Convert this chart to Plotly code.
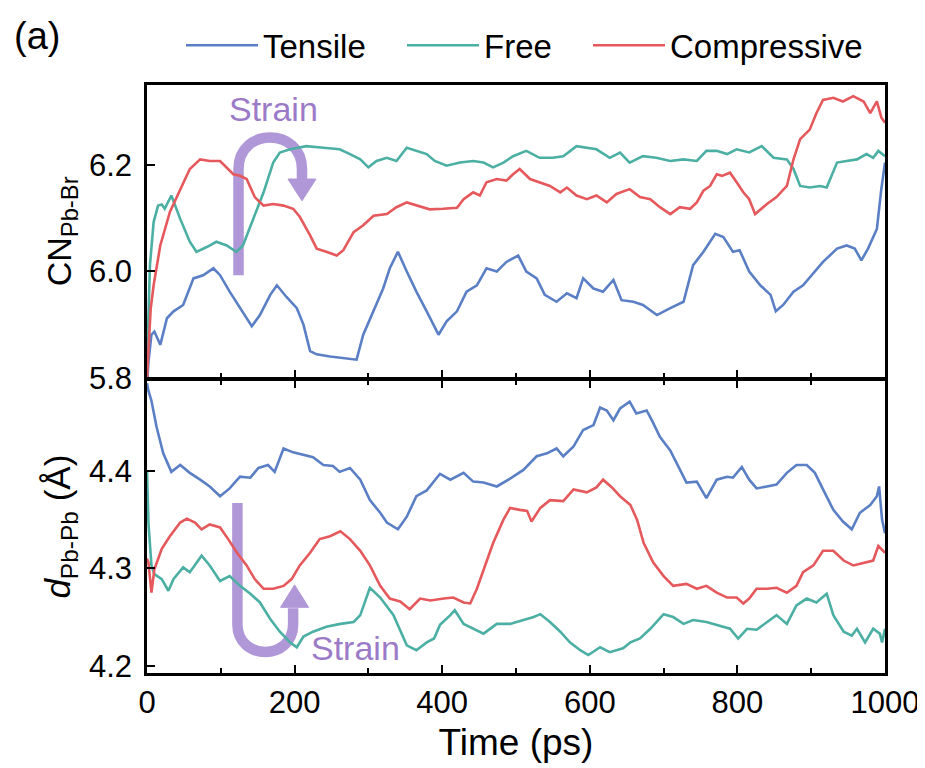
import plotly.graph_objects as go
from plotly.subplots import make_subplots

# ---------------- data ----------------
# Top panel: coordination number CN(Pb-Br)
t_cn_tensile = [0, 2, 6, 10, 18, 27, 36, 49, 63, 76, 90, 99, 112, 126, 142, 153, 167, 176, 189, 203,
                212, 221, 230, 248, 266, 284, 293, 307, 320, 329, 340, 352, 365, 379, 395, 406, 420,
                433, 447, 460, 474, 487, 503, 514, 528, 539, 555, 569, 582, 591, 605, 618, 632, 643,
                659, 672, 691, 709, 727, 740, 754, 770, 781, 794, 803, 816, 831, 845, 852, 862, 876,
                889, 903, 916, 935, 948, 959, 968, 977, 989, 995, 1000]
cn_tensile = [5.79, 5.83, 5.881, 5.887, 5.862, 5.912, 5.925, 5.937, 5.987, 5.993, 6.006, 5.993, 5.962,
              5.931, 5.897, 5.918, 5.956, 5.974, 5.952, 5.931, 5.90, 5.85, 5.844, 5.84, 5.837, 5.834,
              5.881, 5.925, 5.968, 6.006, 6.037, 6.0, 5.962, 5.925, 5.881, 5.906, 5.925, 5.962, 5.974,
              6.006, 6.0, 6.018, 6.03, 6.0, 5.987, 5.956, 5.943, 5.959, 5.95, 5.987, 5.968, 5.962,
              5.984, 5.946, 5.943, 5.937, 5.918, 5.931, 5.943, 6.012, 6.037, 6.071, 6.065, 6.037,
              6.04, 6.0, 5.974, 5.956, 5.925, 5.937, 5.962, 5.974, 5.996, 6.018, 6.043, 6.049, 6.043,
              6.021, 6.043, 6.08, 6.155, 6.205]

t_cn_free = [0, 4, 9, 15, 20, 24, 33, 45, 58, 67, 81, 94, 108, 121, 130, 144, 158, 171, 180, 194, 216,
             239, 261, 275, 289, 300, 311, 325, 338, 352, 365, 379, 390, 406, 424, 442, 456, 469, 483,
             496, 514, 532, 550, 564, 582, 596, 609, 627, 641, 654, 672, 690, 709, 727, 745, 758, 772,
             786, 799, 816, 833, 849, 867, 876, 885, 898, 912, 921, 935, 948, 962, 975, 984, 991, 1000]
cn_free = [5.82, 6.012, 6.093, 6.124, 6.126, 6.118, 6.143, 6.099, 6.056, 6.037, 6.046, 6.056, 6.049,
           6.037, 6.049, 6.099, 6.149, 6.205, 6.224, 6.23, 6.236, 6.233, 6.23, 6.221, 6.211, 6.196,
           6.208, 6.214, 6.208, 6.233, 6.227, 6.221, 6.208, 6.199, 6.205, 6.208, 6.205, 6.196, 6.205,
           6.217, 6.227, 6.214, 6.214, 6.217, 6.236, 6.233, 6.23, 6.214, 6.224, 6.205, 6.217, 6.214,
           6.208, 6.211, 6.208, 6.227, 6.227, 6.221, 6.23, 6.224, 6.236, 6.214, 6.211, 6.193, 6.161,
           6.158, 6.161, 6.158, 6.205, 6.208, 6.211, 6.221, 6.214, 6.227, 6.217]

t_cn_comp = [0, 2, 5, 9, 18, 31, 45, 58, 72, 85, 99, 106, 117, 126, 135, 146, 158, 171, 185, 198, 207,
             221, 230, 243, 257, 266, 280, 293, 307, 325, 338, 352, 365, 383, 401, 420, 429, 442, 451,
             460, 474, 487, 496, 505, 519, 532, 546, 560, 569, 582, 596, 609, 623, 636, 654, 668, 682,
             695, 709, 722, 736, 745, 754, 763, 772, 779, 790, 799, 808, 816, 824, 840, 853, 867, 876,
             885, 898, 907, 916, 930, 943, 957, 971, 980, 989, 995, 1000]
cn_comp = [5.80, 5.86, 5.93, 5.974, 6.049, 6.112, 6.155, 6.193, 6.211, 6.208, 6.208, 6.199, 6.183,
           6.18, 6.174, 6.14, 6.124, 6.127, 6.124, 6.118, 6.103, 6.068, 6.043, 6.037, 6.03, 6.04,
           6.074, 6.087, 6.105, 6.108, 6.121, 6.13, 6.124, 6.117, 6.118, 6.12, 6.136, 6.149, 6.143,
           6.168, 6.174, 6.171, 6.183, 6.193, 6.174, 6.168, 6.161, 6.149, 6.158, 6.143, 6.136, 6.143,
           6.13, 6.146, 6.155, 6.14, 6.136, 6.121, 6.108, 6.121, 6.118, 6.13, 6.152, 6.161, 6.183,
           6.18, 6.186, 6.168, 6.149, 6.136, 6.108, 6.127, 6.14, 6.161, 6.211, 6.249, 6.267, 6.298,
           6.323, 6.327, 6.32, 6.33, 6.32, 6.298, 6.32, 6.29, 6.28]

# Bottom panel: Pb-Pb distance d(Pb-Pb) in angstrom
t_d_tensile = [0, 2, 6, 13, 22, 33, 45, 58, 72, 85, 99, 112, 126, 140, 151, 164, 173, 185, 198, 212,
               225, 239, 252, 261, 275, 289, 302, 316, 325, 340, 352, 365, 379, 397, 411, 429, 442,
               456, 474, 492, 510, 528, 542, 555, 564, 578, 591, 605, 614, 623, 632, 641, 654, 663,
               677, 684, 695, 709, 722, 731, 745, 758, 772, 786, 794, 806, 816, 826, 840, 853, 867,
               880, 894, 905, 916, 930, 943, 955, 966, 980, 989, 992, 996, 1000]
d_tensile = [4.49, 4.482, 4.472, 4.445, 4.418, 4.399, 4.406, 4.398, 4.391, 4.384, 4.374, 4.382, 4.394,
             4.393, 4.403, 4.406, 4.399, 4.423, 4.419, 4.416, 4.414, 4.406, 4.405, 4.399, 4.403,
             4.391, 4.37, 4.357, 4.347, 4.34, 4.353, 4.374, 4.38, 4.397, 4.391, 4.398, 4.389, 4.388,
             4.384, 4.392, 4.401, 4.415, 4.418, 4.423, 4.415, 4.425, 4.442, 4.447, 4.465, 4.462,
             4.452, 4.464, 4.471, 4.459, 4.462, 4.452, 4.435, 4.421, 4.401, 4.388, 4.389, 4.372,
             4.391, 4.394, 4.393, 4.404, 4.391, 4.382, 4.384, 4.386, 4.398, 4.406, 4.406, 4.398,
             4.381, 4.36, 4.348, 4.34, 4.357, 4.365, 4.374, 4.384, 4.35, 4.336]

t_d_free = [0, 2, 6, 10, 20, 29, 36, 49, 58, 74, 85, 99, 112, 126, 140, 153, 167, 180, 194, 203, 212,
            225, 243, 262, 280, 289, 302, 316, 334, 352, 365, 379, 389, 397, 411, 417, 429, 442, 456,
            474, 492, 510, 524, 533, 546, 560, 573, 587, 598, 614, 627, 645, 655, 668, 682, 700, 713,
            727, 740, 758, 776, 790, 801, 813, 826, 840, 853, 867, 880, 894, 907, 921, 930, 944, 955,
            962, 973, 984, 993, 996, 1000]
d_free = [4.40, 4.346, 4.303, 4.294, 4.289, 4.277, 4.289, 4.301, 4.296, 4.313, 4.303, 4.287, 4.292,
          4.282, 4.274, 4.265, 4.248, 4.235, 4.224, 4.219, 4.23, 4.235, 4.24, 4.243, 4.245, 4.252,
          4.28, 4.27, 4.252, 4.221, 4.216, 4.224, 4.228, 4.242, 4.252, 4.257, 4.243, 4.238, 4.233,
          4.243, 4.243, 4.247, 4.25, 4.253, 4.245, 4.235, 4.224, 4.216, 4.211, 4.219, 4.214, 4.218,
          4.224, 4.228, 4.238, 4.253, 4.25, 4.243, 4.247, 4.245, 4.241, 4.238, 4.228, 4.238, 4.237,
          4.245, 4.252, 4.243, 4.262, 4.269, 4.265, 4.274, 4.252, 4.235, 4.231, 4.238, 4.224, 4.238,
          4.233, 4.224, 4.238]

t_d_comp = [0, 2, 6, 10, 20, 31, 45, 54, 65, 74, 85, 99, 110, 122, 135, 146, 158, 171, 185, 196, 207,
            221, 234, 248, 262, 275, 289, 302, 316, 329, 343, 356, 370, 384, 402, 415, 429, 438, 447,
            456, 469, 483, 492, 505, 515, 521, 533, 546, 564, 578, 596, 609, 618, 630, 641, 655, 664,
            673, 686, 700, 713, 731, 745, 758, 772, 786, 799, 808, 816, 826, 840, 853, 867, 880, 889,
            903, 916, 930, 944, 957, 971, 984, 991, 1000]
d_comp = [4.31, 4.306, 4.275, 4.299, 4.32, 4.333, 4.347, 4.351, 4.347, 4.34, 4.345, 4.342, 4.33,
          4.316, 4.303, 4.289, 4.279, 4.279, 4.282, 4.289, 4.303, 4.316, 4.33, 4.333, 4.338, 4.33,
          4.318, 4.303, 4.282, 4.269, 4.266, 4.258, 4.269, 4.267, 4.269, 4.27, 4.265, 4.264, 4.279,
          4.299, 4.326, 4.35, 4.362, 4.36, 4.359, 4.348, 4.362, 4.37, 4.369, 4.381, 4.378, 4.383,
          4.391, 4.383, 4.374, 4.365, 4.35, 4.326, 4.306, 4.292, 4.282, 4.284, 4.279, 4.282, 4.275,
          4.27, 4.27, 4.264, 4.269, 4.279, 4.279, 4.28, 4.275, 4.282, 4.296, 4.303, 4.318, 4.318,
          4.308, 4.303, 4.306, 4.308, 4.323, 4.316]

series_names = ["Tensile", "Free", "Compressive"]
x_tick_vals = [0, 200, 400, 600, 800, 1000]
cn_tick_vals = [5.8, 6.0, 6.2]
d_tick_vals = [4.2, 4.3, 4.4]

# ---------------- styling ----------------
FONT = "Liberation Sans, Arial, Helvetica, sans-serif"
colors = ["#5b7fc5", "#4cafa3", "#e5585b"]
PURPLE = "#b097d8"
PURPLE_TXT = "#9b7bc8"
LW = 2.6
legend_ids = ["legend", "legend2", "legend3"]

fig = make_subplots(rows=2, cols=1, shared_xaxes=True, vertical_spacing=0)

top = [(t_cn_tensile, cn_tensile), (t_cn_free, cn_free), (t_cn_comp, cn_comp)]
bot = [(t_d_tensile, d_tensile), (t_d_free, d_free), (t_d_comp, d_comp)]
for i, (tt, vv) in enumerate(top):
    fig.add_trace(go.Scatter(x=tt, y=vv, mode="lines", name=series_names[i], legend=legend_ids[i],
                             line=dict(color=colors[i], width=LW), showlegend=True), row=1, col=1)
for i, (tt, vv) in enumerate(bot):
    fig.add_trace(go.Scatter(x=tt, y=vv, mode="lines", name=series_names[i],
                             line=dict(color=colors[i], width=LW), showlegend=False), row=2, col=1)

axis_common = dict(showline=True, linecolor="black", linewidth=2.5, ticks="inside",
                   tickcolor="black", tickwidth=2, ticklen=8, showgrid=False, zeroline=False,
                   tickfont=dict(family=FONT, size=31, color="black"))

fig.update_xaxes(range=[0, 1000], tickvals=x_tick_vals, mirror=True,
                 minor=dict(ticks="inside", ticklen=5, tickwidth=2, tickcolor="black", dtick=100,
                            tick0=0), **axis_common)
fig.update_xaxes(row=2, col=1, mirror="ticks",
                 title=dict(text="Time (ps)", font=dict(family=FONT, size=37, color="black"),
                            standoff=11))
fig.update_yaxes(mirror=True, ticklabelstandoff=6, **axis_common)
gap = 2.5 / 588.0
fig.update_yaxes(row=1, col=1, range=[5.8, 6.351], tickvals=cn_tick_vals, tickformat=".1f",
                 domain=[0.5 + gap / 2, 1.0],
                 title=dict(text="CN<sub>Pb-Br</sub>", font=dict(family=FONT, size=34, color="black"),
                            standoff=8))
fig.update_yaxes(row=2, col=1, range=[4.1926, 4.493], tickvals=d_tick_vals, tickformat=".1f",
                 domain=[0.0, 0.5 - gap / 2],
                 title=dict(text="<i>d</i><sub>Pb-Pb</sub> (Å)",
                            font=dict(family=FONT, size=35, color="black"), standoff=8))

# ---------------- "Strain" arrows (annotation graphics) ----------------
def u_path(x0, x1, y_leg_end, y_arc, r_y, up):
    # leg from y_leg_end to y_arc on x0, semicircle to x1, back to y_arc on x1
    c = y_arc + (4.0 / 3.0) * r_y * (1 if up else -1)
    return f"M {x0},{y_leg_end} L {x0},{y_arc} C {x0},{c} {x1},{c} {x1},{y_arc}"

# top arrow (data coordinates of the upper panel)
fig.add_shape(type="path", xref="x", yref="y", layer="below",
              path=u_path(124, 210, 5.993, 6.193, 0.0593, True) + " L 210,6.172",
              line=dict(color=PURPLE, width=10.5))
fig.add_shape(type="path", xref="x", yref="y", layer="below",
              path="M 191,6.174 L 229,6.174 L 210,6.133 Z",
              fillcolor=PURPLE, line=dict(color=PURPLE, width=1))
# bottom arrow (data coordinates of the lower panel)
fig.add_shape(type="path", xref="x", yref="y2", layer="below",
              path=u_path(122.5, 198, 4.367, 4.2425, 0.02826, False) + " L 198,4.259",
              line=dict(color=PURPLE, width=10.5))
fig.add_shape(type="path", xref="x", yref="y2", layer="below",
              path="M 181,4.26 L 219,4.26 L 200,4.283 Z",
              fillcolor=PURPLE, line=dict(color=PURPLE, width=1))

fig.add_annotation(x=172, y=6.305, xref="x", yref="y", text="Strain", showarrow=False,
                   font=dict(family=FONT, size=34, color=PURPLE_TXT))
fig.add_annotation(x=282, y=4.218, xref="x", yref="y2", text="Strain", showarrow=False,
                   font=dict(family=FONT, size=34, color=PURPLE_TXT))
fig.add_annotation(x=-0.149, y=1.084, xref="paper", yref="paper", text="(a)", showarrow=False,
                   xanchor="center", yanchor="middle",
                   font=dict(family=FONT, size=38, color="black"))

legend_common = dict(orientation="h", xanchor="left", y=1.02, yanchor="bottom",
                     font=dict(family=FONT, size=33, color="black"), itemwidth=72,
                     bgcolor="rgba(0,0,0,0)")
fig.update_layout(
    width=917, height=760,
    margin=dict(l=139, r=40, t=77, b=95, autoexpand=False),
    paper_bgcolor="white", plot_bgcolor="white",
    font=dict(family=FONT, size=30, color="black"),
    legend=dict(x=0.0461, **legend_common),
    legend2=dict(x=0.3455, **legend_common),
    legend3=dict(x=0.5976, **legend_common),
)

fig.write_html("out.html")
